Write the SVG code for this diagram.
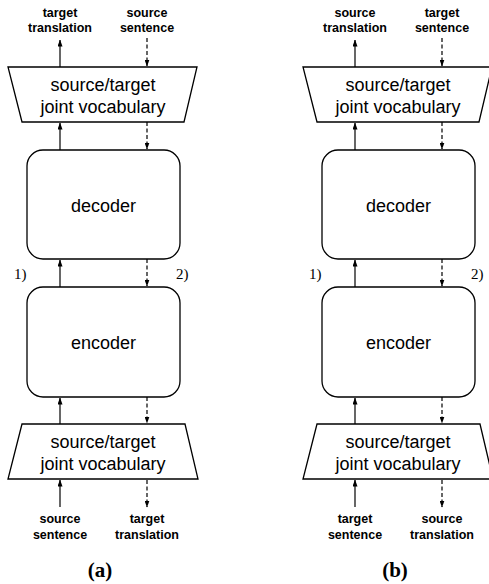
<svg xmlns="http://www.w3.org/2000/svg" width="489" height="584" viewBox="0 0 489 584">
<defs>
<marker id="ah" markerUnits="userSpaceOnUse" markerWidth="7" markerHeight="5" viewBox="0 0 7 5" refX="6.5" refY="2.5" orient="auto">
<path d="M0,0 L7,2.5 L0,5 Z" fill="#000"/>
</marker>
<style>
.shape{fill:#fff;stroke:#000;stroke-width:1.3}
.big{font-family:"Liberation Sans",Arial,sans-serif;font-size:18px;text-anchor:middle;fill:#000}
.lbl{font-family:"Liberation Sans",Arial,sans-serif;font-size:12.5px;font-weight:bold;text-anchor:middle;fill:#000}
.num{font-family:"Liberation Serif","Times New Roman",serif;font-size:15px;fill:#000}
.cap{font-family:"Liberation Serif","Times New Roman",serif;font-size:21px;font-weight:bold;text-anchor:middle;fill:#000}
.up{stroke:#000;stroke-width:1.2;fill:none;marker-end:url(#ah)}
.dn{stroke:#000;stroke-width:1.2;fill:none;stroke-dasharray:4 2.5;marker-end:url(#ah)}
</style>
</defs>

<!-- Panel (a) -->
<g id="panel-a">
<g id="a-top-vocab">
<polygon class="shape" points="8,67 197,67 184,122 22,122"/>
<text class="big" x="103" y="91">source/target</text>
<text class="big" x="103" y="113">joint vocabulary</text>
</g>
<g id="a-decoder">
<rect class="shape" x="27" y="150" width="153" height="109" rx="16" ry="16"/>
<text class="big" x="103.5" y="212">decoder</text>
</g>
<g id="a-encoder">
<rect class="shape" x="27" y="287" width="153" height="110" rx="16" ry="16"/>
<text class="big" x="103.5" y="349">encoder</text>
</g>
<g id="a-bottom-vocab">
<polygon class="shape" points="22,424 185,424 198,479 8,479"/>
<text class="big" x="103" y="448">source/target</text>
<text class="big" x="103" y="470">joint vocabulary</text>
</g>
<g id="a-labels">
<text class="lbl" x="60" y="17">target</text>
<text class="lbl" x="60" y="32">translation</text>
<text class="lbl" x="147" y="17">source</text>
<text class="lbl" x="147" y="32">sentence</text>
<text class="lbl" x="60" y="523">source</text>
<text class="lbl" x="60" y="539">sentence</text>
<text class="lbl" x="147" y="523">target</text>
<text class="lbl" x="147" y="539">translation</text>
<text class="num" x="14" y="279">1)</text>
<text class="num" x="176" y="279">2)</text>
<text class="cap" x="100" y="577">(a)</text>
</g>
<g id="a-connectors">
<line class="up" x1="60" y1="67" x2="60" y2="40"/>
<line class="dn" x1="147" y1="38" x2="147" y2="66"/>
<line class="up" x1="60" y1="150" x2="60" y2="123"/>
<line class="dn" x1="147" y1="122" x2="147" y2="149"/>
<line class="up" x1="60" y1="287" x2="60" y2="260"/>
<line class="dn" x1="147" y1="259" x2="147" y2="286"/>
<line class="up" x1="60" y1="424" x2="60" y2="398"/>
<line class="dn" x1="147" y1="397" x2="147" y2="423"/>
<line class="up" x1="60" y1="507" x2="60" y2="480"/>
<line class="dn" x1="147" y1="480" x2="147" y2="507"/>
</g>
</g>

<!-- Panel (b) -->
<g id="panel-b" transform="translate(295,0)">
<g id="b-top-vocab">
<polygon class="shape" points="8,67 197,67 184,122 22,122"/>
<text class="big" x="103" y="91">source/target</text>
<text class="big" x="103" y="113">joint vocabulary</text>
</g>
<g id="b-decoder">
<rect class="shape" x="27" y="150" width="153" height="109" rx="16" ry="16"/>
<text class="big" x="103.5" y="212">decoder</text>
</g>
<g id="b-encoder">
<rect class="shape" x="27" y="287" width="153" height="110" rx="16" ry="16"/>
<text class="big" x="103.5" y="349">encoder</text>
</g>
<g id="b-bottom-vocab">
<polygon class="shape" points="22,424 185,424 198,479 8,479"/>
<text class="big" x="103" y="448">source/target</text>
<text class="big" x="103" y="470">joint vocabulary</text>
</g>
<g id="b-labels">
<text class="lbl" x="60" y="17">source</text>
<text class="lbl" x="60" y="32">translation</text>
<text class="lbl" x="147" y="17">target</text>
<text class="lbl" x="147" y="32">sentence</text>
<text class="lbl" x="60" y="523">target</text>
<text class="lbl" x="60" y="539">sentence</text>
<text class="lbl" x="147" y="523">source</text>
<text class="lbl" x="147" y="539">translation</text>
<text class="num" x="14" y="279">1)</text>
<text class="num" x="176" y="279">2)</text>
<text class="cap" x="100" y="577">(b)</text>
</g>
<g id="b-connectors">
<line class="up" x1="60" y1="67" x2="60" y2="40"/>
<line class="dn" x1="147" y1="38" x2="147" y2="66"/>
<line class="up" x1="60" y1="150" x2="60" y2="123"/>
<line class="dn" x1="147" y1="122" x2="147" y2="149"/>
<line class="up" x1="60" y1="287" x2="60" y2="260"/>
<line class="dn" x1="147" y1="259" x2="147" y2="286"/>
<line class="up" x1="60" y1="424" x2="60" y2="398"/>
<line class="dn" x1="147" y1="397" x2="147" y2="423"/>
<line class="up" x1="60" y1="507" x2="60" y2="480"/>
<line class="dn" x1="147" y1="480" x2="147" y2="507"/>
</g>
</g>
</svg>
